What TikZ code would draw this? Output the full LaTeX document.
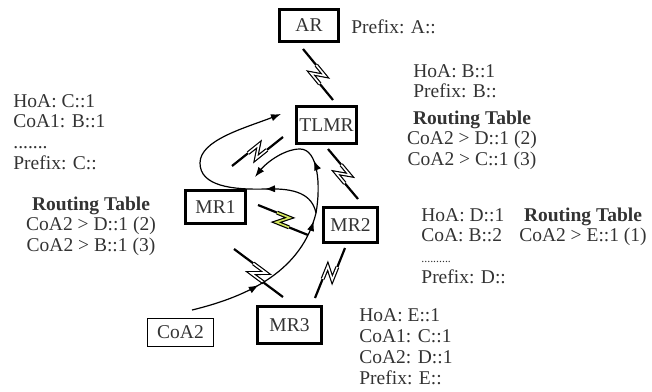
\documentclass[tikz,border=0pt]{standalone}
\usepackage{fontspec}
\setmainfont{Liberation Serif}
\usetikzlibrary{arrows.meta,calc,decorations.markings}

\definecolor{txt}{gray}{0.2}
\definecolor{boltfill}{RGB}{214,232,96}
\newcommand\diafont{\fontsize{9.75pt}{10.35pt}\selectfont}

\tikzset{
  router/.style={draw=black, line width=1.3pt, inner sep=0pt, text=txt},
  host/.style={draw=black, line width=0.55pt, inner sep=0pt, text=txt},
  info/.style={anchor=base west, align=left, inner sep=0pt, text=txt},
  rtable/.style={anchor=base, align=center, inner sep=0pt, text=txt},
  tip/.style={-{Latex[length=5pt,width=3.6pt]}},
  flow/.style={line width=0.6pt},
}

% wireless link: straight ends with an outlined zigzag in the middle
\newcommand\bolt[3]{%
  \path ($(#1)!0.58!(#2)!2.7pt!90:(#2)$) coordinate (bp1)
        ($(#1)!0.42!(#2)!2.7pt!-90:(#2)$) coordinate (bp2);
  \path ($(#1)!0.6!(bp1)$) coordinate (bq1)
        ($(bp2)!0.4!(#2)$) coordinate (bq2);
  \draw[line width=1.1pt] (#1) -- (bq1) (bq2) -- (#2);
  \draw[line width=2pt, line join=miter, miter limit=10] (bq1) -- (bp1) -- (bp2) -- (bq2);
  \draw[#3, line width=0.8pt, line join=miter, miter limit=10] (bq1) -- (bp1) -- (bp2) -- (bq2);
}

\begin{document}
\begin{tikzpicture}[x=0.5pt, y=-0.5pt, nodes={font=\diafont}]
\useasboundingbox (0,0) rectangle (652,391);

% routers and the mobile host
\node[router, minimum width=29.7pt, minimum height=16.2pt] (ar)   at (309,25.5)  {AR};
\node[router, minimum width=30.2pt, minimum height=18.7pt] (tlmr) at (326.5,125) {TLMR};
\node[router, minimum width=30.2pt, minimum height=16.7pt] (mr1)  at (215.5,207) {MR1};
\node[router, minimum width=27.2pt, minimum height=17.7pt] (mr2)  at (350.5,225) {MR2};
\node[router, minimum width=32.2pt, minimum height=18.7pt] (mr3)  at (289.5,325) {MR3};
\node[host,   minimum width=32.9pt, minimum height=13.9pt] (coa2) at (180.5,332.5) {CoA2};

% address information (anchored on the baseline of the last line)
\node[info] (arinfo) at (351,33) {Prefix: A::};
\node[info] (tlmrinfo) at (413,97.7) {HoA: B::1\\Prefix: B::};
\node[rtable] (tlmrrt) at (472,165.4) {\textbf{Routing Table}\\CoA2 > D::1 (2)\\CoA2 > C::1 (3)};
\node[info] (mr1info) at (13,169.1) {HoA: C::1\\CoA1: B::1\\.......\\Prefix: C::};
\node[rtable] (mr1rt) at (91,251.4) {\textbf{Routing Table}\\CoA2 > D::1 (2)\\CoA2 > B::1 (3)};
\node[info] (mr2info) at (421,283.1) {HoA: D::1\\CoA: B::2\\{\fontsize{5.9pt}{6pt}\selectfont ..........}\\Prefix: D::};
\node[rtable] (mr2rt) at (583,241.7) {\textbf{Routing Table}\\CoA2 > E::1 (1)};
\node[info] (mr3info) at (359,384) {HoA: E::1\\CoA1: C::1\\CoA2: D::1\\Prefix: E::};

% wireless links
\coordinate (l1a) at (303,49);  \coordinate (l1b) at (333,100);
\coordinate (l2a) at (328,149); \coordinate (l2b) at (358,199);
\coordinate (l3a) at (232,166); \coordinate (l3b) at (283,137);
\coordinate (l4a) at (258,205); \coordinate (l4b) at (308,235);
\coordinate (l5a) at (234,249); \coordinate (l5b) at (283,297);
\coordinate (l6a) at (345,248); \coordinate (l6b) at (315,298);
\bolt{l1a}{l1b}{white}
\bolt{l2a}{l2b}{white}
\bolt{l3a}{l3b}{white}
\bolt{l4a}{l4b}{boltfill}
\bolt{l5a}{l5b}{white}
\bolt{l6a}{l6b}{white}

% packet flow
\coordinate (src) at (192,310);
\coordinate (jn)  at (316,213);
\coordinate (top) at (300,149);
\coordinate (e1)  at (255,177);
\coordinate (bend) at (266,189);
\coordinate (lp)  at (200,163);
\coordinate (e2)  at (281,114);

\draw[flow, postaction={decorate}, decoration={markings,
      mark=at position 0.43 with {\arrow{Latex[length=5pt,width=3.6pt]}},
      mark=at position 0.95 with {\arrow{Latex[length=5pt,width=3.6pt]}}}]
  (src) .. controls (250,296) and (302,270) .. (jn);
\draw[flow, tip, postaction={decorate}, decoration={markings,
      mark=at position 0.42 with {\arrow{Latex[length=5pt,width=3.6pt]}}}]
  (jn) .. controls (321,185) and (318,149) .. (top)
       .. controls (284,149) and (266,163) .. (e1);
\draw[flow, tip, postaction={decorate}, decoration={markings,
      mark=at position 0.26 with {\arrow{Latex[length=5pt,width=3.6pt]}}}]
  (jn) .. controls (312,194) and (295,188) .. (bend)
       .. controls (232,190) and (200,186) .. (lp)
       .. controls (200,140) and (245,128) .. (e2);
\end{tikzpicture}
\end{document}
